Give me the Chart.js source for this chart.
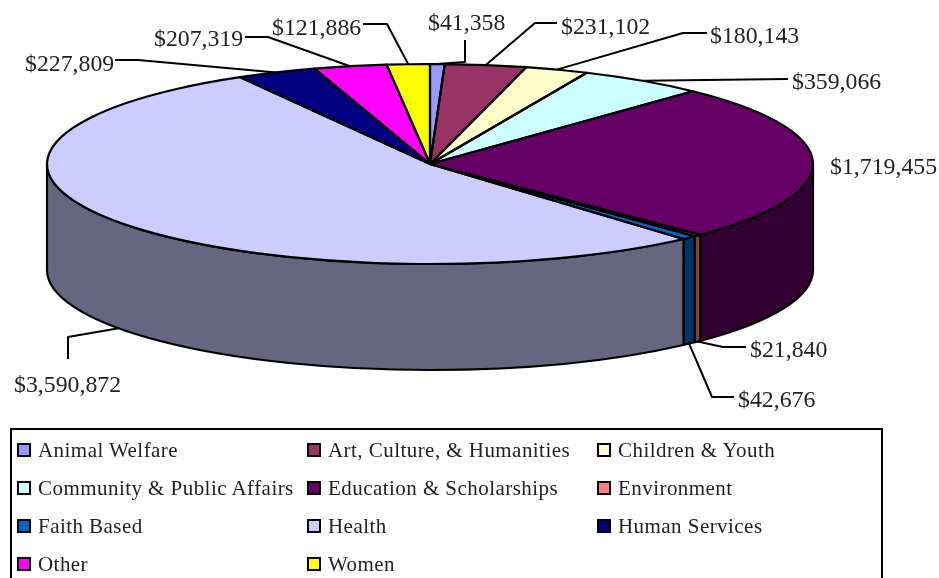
<!DOCTYPE html>
<html>
<head>
<meta charset="utf-8">
<title>Giving by category</title>
<script src="https://cdn.jsdelivr.net/npm/chart.js@4"></script>
<style>
  html, body { margin: 0; padding: 0; background: #fff; overflow: hidden; }
  #wrap { position: relative; width: 939px; height: 578px; overflow: hidden; }
  #legendBox {
    position: absolute; left: 10px; top: 428px; width: 873px; height: 170px;
    border: 2px solid #000; box-sizing: border-box;
    font-family: "Liberation Serif", serif; font-size: 21px; color: #222; letter-spacing: 0.45px;
  }
  .item { position: absolute; white-space: nowrap; line-height: 24px; padding-left: 26px; }
  .swatch {
    position: absolute; left: 5px; top: 5px; width: 14px; height: 14px;
    border: 2px solid #000; box-sizing: border-box;
  }
</style>
</head>
<body>
<div id="wrap">
  <canvas id="pieChart" width="939" height="578"></canvas>
  <div id="legendBox"></div>
</div>
<script>
const categories = ['Animal Welfare', 'Art, Culture, & Humanities', 'Children & Youth',
  'Community & Public Affairs', 'Education & Scholarships', 'Environment',
  'Faith Based', 'Health', 'Human Services', 'Other', 'Women'];
const amounts = [41358, 231102, 180143, 359066, 1719455, 21840, 42676, 3590872, 227809, 207319, 121886];
const sliceColors = ['#9999FF', '#993366', '#FFFFCC', '#CCFFFF', '#660066', '#FF8080',
  '#0066CC', '#CCCCFF', '#000080', '#FF00FF', '#FFFF00'];
const wallColors = ['#4D4D80', '#4D1A33', '#808066', '#668080', '#330033', '#804040',
  '#003366', '#666680', '#000040', '#800080', '#808000'];

// where each value label sits and how its leader bends, same order as categories
const labelX = [428, 561, 710, 792, 830, 750, 738, 14, 25, 154, 272];
const labelY = [24, 28, 37, 83, 168, 351, 401, 386, 65, 40, 29];
const leaderBends = [
  [[465, 40], [465, 62]],
  [[557, 23], [535, 23]],
  [[707, 33], [683, 33]],
  [[788, 79]],
  null,
  [[746, 347], [723, 347]],
  [[734, 397], [712, 397]],
  [[68, 359], [68, 337]],
  [[115, 60], [138, 60]],
  [[245, 37], [268, 37]],
  [[363, 24], [387, 24]]
];

const SQUASH = 100 / 383;
const DEPTH = 106;

function ellipsePath(ctx, el, dy, a0, a1, ccw) {
  ctx.save();
  ctx.translate(el.x, el.y + dy);
  ctx.scale(1, SQUASH);
  ctx.arc(0, 0, el.outerRadius, a0, a1, ccw);
  ctx.restore();
}

const pie3d = {
  id: 'pie3d',
  beforeDatasetsDraw(chart) {
    const ctx = chart.ctx;
    ctx.lineWidth = 2.2;
    ctx.strokeStyle = '#000';
    ctx.lineJoin = 'round';
    // side wall, only the part of each slice that faces the viewer
    chart.getDatasetMeta(0).data.forEach((el, i) => {
      const a0 = Math.max(el.startAngle, 0);
      const a1 = Math.min(el.endAngle, Math.PI);
      if (a1 <= a0) return;
      ctx.beginPath();
      ellipsePath(ctx, el, 0, a0, a1, false);
      ellipsePath(ctx, el, DEPTH, a1, a0, true);
      ctx.closePath();
      ctx.fillStyle = wallColors[i];
      ctx.fill();
      ctx.stroke();
    });
    // squash the flat pie the library draws
    const c = chart.getDatasetMeta(0).data[0];
    ctx.save();
    ctx.translate(c.x, c.y);
    ctx.scale(1, SQUASH);
    ctx.translate(-c.x, -c.y);
  },
  afterDatasetsDraw(chart) {
    const ctx = chart.ctx;
    ctx.restore();
    ctx.lineWidth = 2.2;
    ctx.strokeStyle = '#000';
    ctx.lineJoin = 'round';
    chart.getDatasetMeta(0).data.forEach(el => {
      ctx.beginPath();
      ctx.moveTo(el.x, el.y);
      ellipsePath(ctx, el, 0, el.startAngle, el.endAngle, false);
      ctx.closePath();
      ctx.stroke();
    });
  },
  afterDraw(chart) {
    const ctx = chart.ctx;
    ctx.save();
    ctx.font = '23.8px "Liberation Serif", serif';
    ctx.textAlign = 'left';
    ctx.textBaseline = 'middle';
    chart.getDatasetMeta(0).data.forEach((el, i) => {
      ctx.fillStyle = '#222';
      ctx.fillText('$' + amounts[i].toLocaleString('en-US'), labelX[i], labelY[i]);
      if (!leaderBends[i]) return;
      const mid = (el.startAngle + el.endAngle) / 2;
      const front = Math.sin(mid) > 0;
      const endX = el.x + Math.cos(mid) * el.outerRadius;
      const endY = el.y + Math.sin(mid) * el.outerRadius * SQUASH + (front ? DEPTH : 0);
      ctx.beginPath();
      leaderBends[i].forEach(([x, y], k) => k ? ctx.lineTo(x, y) : ctx.moveTo(x, y));
      ctx.lineTo(endX, endY);
      ctx.lineWidth = 2;
      ctx.strokeStyle = '#000';
      ctx.stroke();
    });
    ctx.restore();
  }
};

new Chart(document.getElementById('pieChart'), {
  type: 'pie',
  data: {
    labels: categories,
    datasets: [{
      data: amounts,
      backgroundColor: sliceColors,
      borderWidth: 0,
      radius: 383,
      clip: false
    }]
  },
  options: {
    responsive: false,
    animation: false,
    layout: { padding: { left: 0, right: 79, top: 0, bottom: 250 } },
    plugins: { legend: { display: false }, tooltip: { enabled: false } }
  },
  plugins: [pie3d]
});

// legend reads across three columns
const legendBox = document.getElementById('legendBox');
categories.forEach((name, i) => {
  const item = document.createElement('div');
  item.className = 'item';
  item.style.left = (0 + (i % 3) * 290) + 'px';
  item.style.top = (8 + Math.floor(i / 3) * 38) + 'px';
  const swatch = document.createElement('span');
  swatch.className = 'swatch';
  swatch.style.background = sliceColors[i];
  item.appendChild(swatch);
  item.appendChild(document.createTextNode(name));
  legendBox.appendChild(item);
});
</script>
</body>
</html>
